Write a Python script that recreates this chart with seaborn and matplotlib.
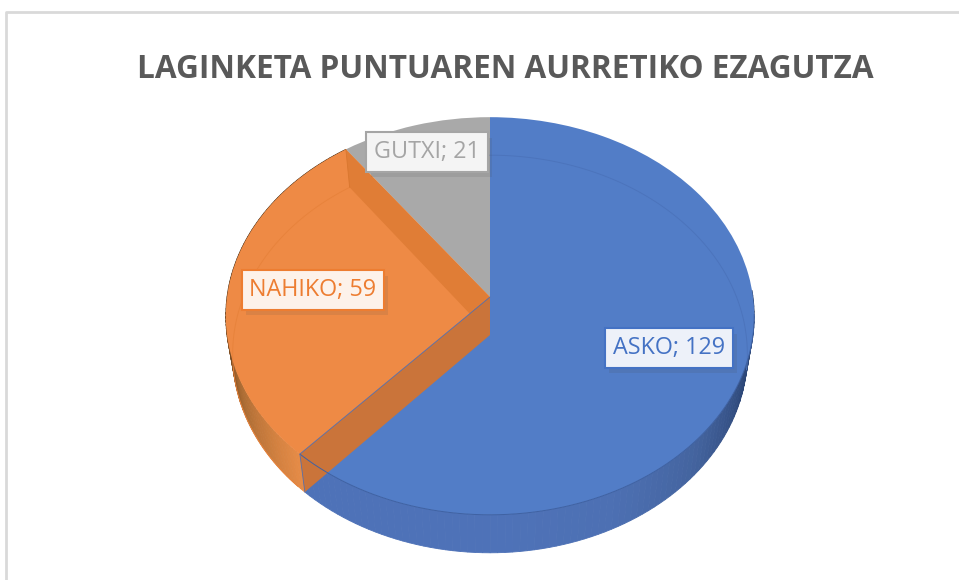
import numpy as np
import matplotlib
matplotlib.use("Agg")
import matplotlib.pyplot as plt
import matplotlib.patheffects as pe
from matplotlib.transforms import Transform
import seaborn as sns

# Data
labels = ["ASKO", "NAHIKO", "GUTXI"]
values = [129, 59, 21]
top_colors = ["#527DC7", "#EE8A45", "#A9A9A9"]
edge_colors = ["#4472C4", "#ED7D31", "#A5A5A5"]

sns.set_theme(style="white")
plt.rcParams["font.family"] = ["Open Sans", "DejaVu Sans"]

# where the tilted pie sits on the canvas (pixels)
CX, CY = 490, 297
K = 0.0955
A, B = 263, 197
DROP, SHRINK = 38, 0.974


def project(u, v, low=False):
    w = 1 + K * np.asarray(v)
    x = A * np.asarray(u) / w
    y = CY - B * np.asarray(v) / w
    if low:
        return CX + x * SHRINK, y + DROP
    return CX + x, y


class TiltedPie(Transform):
    input_dims = 2
    output_dims = 2

    def transform_non_affine(self, values):
        x, y = project(values[:, 0], values[:, 1])
        return np.column_stack([x, y])


def on_rim(deg, low=False):
    t = np.radians(deg)
    return project(np.sin(t), np.cos(t), low)


def wall(start, end, stops):
    # side of the pie, split in strips so the shade can change along it
    angles = np.linspace(start, end, 90)
    shades = sns.blend_palette(stops, len(angles) - 1)
    for i, c in enumerate(shades):
        x1, y1 = on_rim(angles[i:i + 2])
        x2, y2 = on_rim(angles[i:i + 2], low=True)
        ax.fill(np.r_[x1, x2[::-1]], np.r_[y1, y2[::-1]], color=c, lw=0.6, zorder=1)


fig = plt.figure(figsize=(9.59, 5.8), dpi=100)
ax = fig.add_axes([0, 0, 1, 1])

wedges, _ = ax.pie(values, startangle=90, counterclock=False, colors=top_colors, wedgeprops={"linewidth": 0})
ax.set_aspect("auto")
ax.set_xlim(0, 959)
ax.set_ylim(580, 0)
ax.axis("off")
persp = TiltedPie() + ax.transData
for w in wedges:
    w.set_transform(persp)
wedges[2].set_zorder(2)
wedges[1].set_zorder(3)
wedges[0].set_zorder(6)

# slice boundaries, in degrees clockwise from the top
end_blue = 360 * values[0] / sum(values)
end_orange = end_blue + 360 * values[1] / sum(values)

wall(88, end_blue, ["#263C66", "#2F4A7C", "#44649F", "#4D70B3", "#4E72B8", "#4E72B8", "#4E72B8"])
wall(end_blue, end_orange, ["#E58B47", "#A86A32", "#4A3018", "#4A3018", "#4A3018"])

# cut faces of the orange slice
x1, y1 = on_rim(end_orange)
x2, y2 = on_rim(end_orange, low=True)
ax.fill([x1, CX, CX, x2], [y1, CY, CY + DROP, y2], color="#E07D36", lw=0, zorder=4)
x3, y3 = on_rim(end_blue)
x4, y4 = on_rim(end_blue, low=True)
ax.fill([CX, x3, x4, CX], [CY, y3, y4, CY + DROP], color="#CA743A", lw=0, zorder=7)

# thin edges, the far rim of the base shows through the top
a = np.linspace(end_blue + 2, end_orange, 120)
ax.plot(*on_rim(a, low=True), color="#E8833C", lw=0.7, zorder=5)
a = np.linspace(0, 100, 120)
ax.plot(*on_rim(a, low=True), color="#4C74BC", lw=0.7, zorder=8)
a = np.linspace(95, end_blue, 160)
ax.plot(*on_rim(a), color="#3F62A3", lw=0.7, zorder=8)
ax.plot([CX, x3, x4], [CY, y3, y4], color="#5A6FA8", lw=0.6, zorder=8)
ax.plot([x1, x2], [y1, y2], color="#D9772F", lw=0.6, zorder=5)

# title and frame
ax.plot([6, 6, 959], [580, 12, 12], color="#D9D9D9", lw=2, zorder=0)
ax.text(505.5, 69, "LAGINKETA PUNTUAREN AURRETIKO EZAGUTZA", ha="center", va="center",
        fontsize=22.7, fontweight="bold", color="#595959", zorder=10)

# data labels
label_pos = [(669, 348), (313, 290), (427, 152)]
label_bg = ["#EDF1F9", "#FDF2EA", "#F4F4F4"]
for i, name in enumerate(labels):
    t = ax.text(label_pos[i][0], label_pos[i][1], f"{name}; {values[i]}", ha="center", va="center",
                fontsize=16.8, color=edge_colors[i], zorder=11,
                bbox=dict(boxstyle="square,pad=0.33", fc=label_bg[i], ec=edge_colors[i], lw=1.5))
    t.get_bbox_patch().set_path_effects([pe.withSimplePatchShadow(offset=(3, -4), alpha=0.12)])

plt.savefig("out.png", dpi=100)
